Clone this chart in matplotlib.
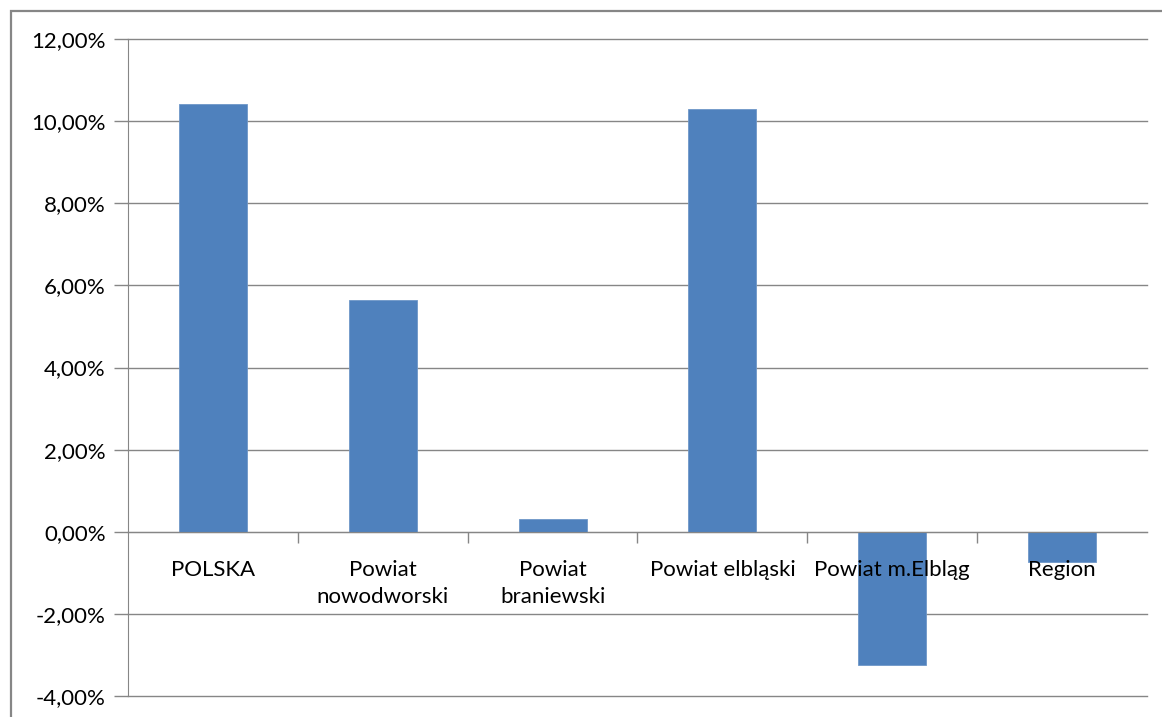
import matplotlib.pyplot as plt
import matplotlib.patches as mpatches
from matplotlib.ticker import FuncFormatter, FixedLocator
import numpy as np

plt.rcParams["font.family"] = ["Lato", "DejaVu Sans"]

categories = ["POLSKA", "Powiat\nnowodworski", "Powiat\nbraniewski",
              "Powiat elbląski", "Powiat m.Elbląg", "Region"]
values = [10.42, 5.65, 0.32, 10.30, -3.24, -0.73]   # zmiana w %
y_ticks = [-4, -2, 0, 2, 4, 6, 8, 10, 12]

BAR = "#4F81BD"
GRID = "#868686"

fig = plt.figure(figsize=(11.62, 7.17), dpi=100)
ax = fig.add_axes([128 / 1162, 1 - 696 / 717, (1147 - 128) / 1162, (696 - 39) / 717])

x = np.arange(len(categories))
ax.bar(x, values, width=0.4, color=BAR, edgecolor="#6E97C8", linewidth=0.6, zorder=2)

ax.set_xlim(-0.5, len(categories) - 0.5)
ax.set_ylim(-4, 12)
ax.set_yticks(y_ticks)
ax.yaxis.set_major_formatter(FuncFormatter(lambda v, _: f"{v:.2f}%".replace(".", ",")))
ax.yaxis.grid(True, color=GRID, linewidth=1.0)
for gl in ax.get_ygridlines():
    gl.set_clip_on(False)

# category axis runs along zero, ticks between the groups
ax.spines["bottom"].set_position(("data", 0))
ax.spines["bottom"].set_color(GRID)
ax.spines["left"].set_color(GRID)
ax.spines["top"].set_visible(False)
ax.spines["right"].set_visible(False)

ax.set_xticks(x)
ax.set_xticklabels(categories, fontsize=16, linespacing=1.45, va="top")
ax.xaxis.set_minor_locator(FixedLocator(np.arange(0.5, len(categories) - 0.5, 1)))
ax.tick_params(axis="x", which="major", length=0, pad=20)
ax.tick_params(axis="x", which="minor", length=8, color=GRID, width=1)
ax.tick_params(axis="y", length=10, color=GRID, width=1, pad=6, labelsize=16)
ax.set_axisbelow(True)
ax.xaxis.set_zorder(3)

# chart frame
frame = mpatches.Rectangle((11 / 1162, -0.05), 1.1, (717 - 11) / 717 + 0.05,
                           transform=fig.transFigure, fill=False,
                           edgecolor=GRID, linewidth=1.6)
fig.patches.append(frame)

fig.savefig("out.png", dpi=100)
